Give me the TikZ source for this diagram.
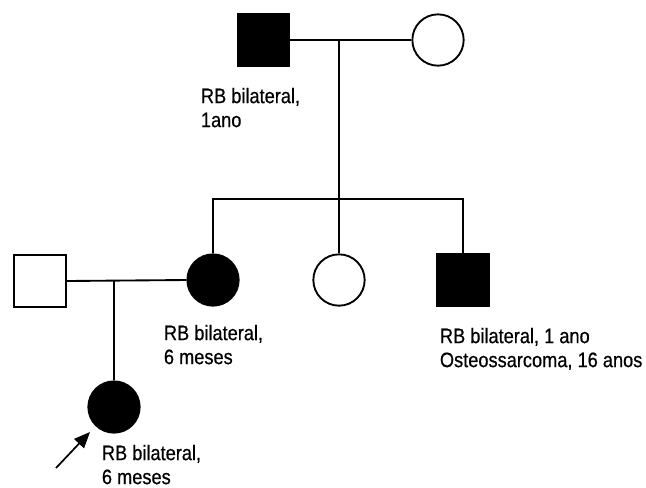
\documentclass[tikz,border=0pt]{standalone}
\usepackage{fontspec}
\setmainfont[FakeStretch=0.87, FakeBold=0.5]{Liberation Sans}
\usetikzlibrary{arrows.meta}

\begin{document}
\begin{tikzpicture}[x=0.75pt, y=-0.75pt, line width=1.4pt,
    male/.style={draw, rectangle, minimum size=38.5pt, inner sep=0pt},
    female/.style={draw, circle, minimum size=38.5pt, inner sep=0pt},
    affected/.style={fill=black},
    note/.style={anchor=north west, align=left, inner sep=0pt,
      font=\fontsize{15.7}{18}\selectfont}]
  \useasboundingbox (0,0) rectangle (646,487);
  % Generation I
  \node[male, affected] (gfather) at (263.5,40) {};
  \node[female] (gmother) at (438,40) {};
  \node[note] (gfnote) at (200,87) {RB bilateral,\\1ano};
  \coordinate (marriage1) at (339,40);
  \coordinate (sibs) at (339,199);
  \draw (gfather.east) -- (gmother.west);
  \draw (marriage1) -- (sibs);
  % Generation II
  \node[female, affected] (daughter) at (213,280) {};
  \node[female] (daughter2) at (339,280) {};
  \node[male, affected] (son) at (463,280) {};
  \node[male] (husband) at (40,281) {};
  \node[note] (dnote) at (163,324) {RB bilateral,\\6 meses};
  \node[note] (snote) at (439,327) {RB bilateral, 1 ano\\Osteossarcoma, 16 anos};
  \draw (daughter.north) |- (sibs) -| (son.north);
  \draw (sibs) -- (daughter2.north);
  \draw (husband.east) -- (daughter.west);
  \coordinate (marriage2) at (114,281);
  % Generation III: proband
  \node[female, affected] (proband) at (114,407) {};
  \node[note, text depth=0pt] (pnote) at (101,444) {RB bilateral,\\6 meses};
  \draw (marriage2) -- (proband.north);
  \coordinate (arrtail) at (56,468);
  \coordinate (arrhead) at (90,432);
  \draw[-{Triangle[length=12pt, width=10pt]}, line width=1.3pt] (arrtail) -- (arrhead);
\end{tikzpicture}
\end{document}
